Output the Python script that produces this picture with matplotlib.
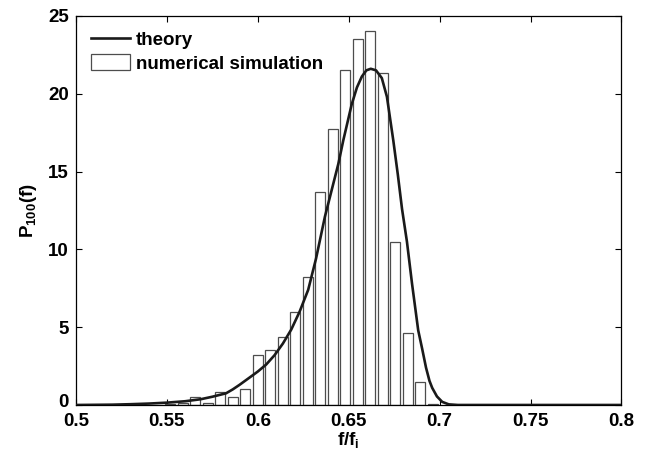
import matplotlib
matplotlib.use("Agg")
import matplotlib.pyplot as plt
import matplotlib.transforms as mtransforms

# ── Data ──────────────────────────────────────────────────────────────────────

# histogram of the numerical simulation (bin centres, heights)
bin_centers = [0.5518, 0.5587, 0.5656, 0.5725, 0.5794, 0.5862, 0.5931,
               0.6000, 0.6069, 0.6138, 0.6206, 0.6275, 0.6344, 0.6413,
               0.6482, 0.6550, 0.6619, 0.6688, 0.6757, 0.6826, 0.6894,
               0.6963]
bin_heights = [0.05, 0.10, 0.50, 0.10, 0.82, 0.50, 1.00,
               3.20, 3.55, 4.35, 6.00, 8.20, 13.70, 17.70,
               21.50, 23.50, 24.00, 21.35, 10.50, 4.65, 1.50,
               0.05]
bin_width = 0.0055

# theory curve
theory_x = [0.500, 0.510, 0.520, 0.530, 0.540, 0.550, 0.560, 0.5686, 0.575,
            0.5825, 0.5862, 0.590, 0.5959, 0.600, 0.6046, 0.6092, 0.6138,
            0.6184, 0.623, 0.6277, 0.632, 0.6369, 0.6406, 0.6443, 0.647,
            0.6516, 0.6545, 0.6572, 0.6597, 0.6621, 0.6650, 0.6682, 0.6710,
            0.6745, 0.6770, 0.6793, 0.682, 0.6848, 0.6882, 0.6904, 0.6925,
            0.6944, 0.6959, 0.6985, 0.7014, 0.705, 0.710, 0.720, 0.750, 0.800]
theory_y = [0.00, 0.01, 0.02, 0.05, 0.09, 0.15, 0.24, 0.37, 0.53,
            0.75, 1.00, 1.30, 1.80, 2.15, 2.60, 3.20, 3.95,
            4.85, 6.00, 7.40, 9.40, 12.10, 13.80, 15.50, 17.00,
            19.30, 20.40, 21.10, 21.50, 21.60, 21.50, 21.00, 19.80,
            17.00, 14.80, 12.60, 10.50, 7.80, 4.80, 3.60, 2.40,
            1.55, 1.10, 0.55, 0.20, 0.04, 0.00, 0.00, 0.00, 0.00]

x_ticks = [0.5, 0.55, 0.6, 0.65, 0.7, 0.75, 0.8]
x_tick_labels = ["0.5", "0.55", "0.6", "0.65", "0.7", "0.75", "0.8"]
y_ticks = [0, 5, 10, 15, 20, 25]

# ── Style ─────────────────────────────────────────────────────────────────────

plt.rcParams["font.family"] = ["Liberation Sans", "DejaVu Sans"]
plt.rcParams["font.weight"] = "bold"
plt.rcParams["mathtext.fontset"] = "custom"
plt.rcParams["mathtext.rm"] = "Liberation Sans:bold"
plt.rcParams["mathtext.it"] = "Liberation Sans:bold"
plt.rcParams["mathtext.bf"] = "Liberation Sans:bold"

FS = 13.5

fig = plt.figure(figsize=(6.58, 4.53), dpi=100)
ax = fig.add_axes([0.1155, 0.106, 0.829, 0.859])

ax.bar(bin_centers, bin_heights, width=bin_width, color="white",
       edgecolor="0.3", linewidth=0.9, label="numerical simulation", zorder=2)
ax.plot(theory_x, theory_y, color="#1a1a1a", linewidth=1.9,
        label="theory", zorder=3)

ax.set_xlim(0.5, 0.8)
ax.set_ylim(0, 25)
ax.set_xticks(x_ticks)
ax.set_xticklabels(x_tick_labels)
ax.set_yticks(y_ticks)
ax.tick_params(direction="in", top=True, right=True, length=4, width=0.8,
               labelsize=FS)
ax.tick_params(axis="x", pad=6)
ax.tick_params(axis="y", pad=5)
for s in ax.spines.values():
    s.set_linewidth(0.9)

# nudge the "0" label up a touch so it clears "0.5" (as in the original)
zero_lbl = ax.get_yticklabels()[0]
zero_lbl.set_transform(zero_lbl.get_transform() +
                       mtransforms.ScaledTranslation(0, 3 / 72, fig.dpi_scale_trans))

ax.set_xlabel("f/f$_{i}$", fontsize=FS, fontweight="bold", labelpad=0)
ax.set_ylabel("P$_{100}$(f)", fontsize=FS, fontweight="bold", labelpad=7)

handles, labels = ax.get_legend_handles_labels()
order = [labels.index("theory"), labels.index("numerical simulation")]
ax.legend([handles[i] for i in order], [labels[i] for i in order],
          loc="upper left", frameon=False, fontsize=FS, handlelength=2.1,
          handleheight=0.95, handletextpad=0.3, borderaxespad=0.4,
          labelspacing=0.25)

fig.savefig("out.png", dpi=100)
